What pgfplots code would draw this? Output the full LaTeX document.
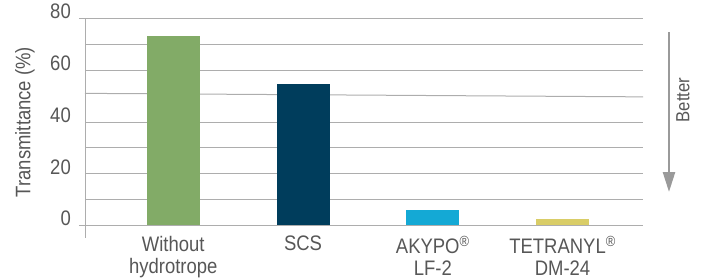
\documentclass[border=0pt]{standalone}
\usepackage{fontspec}
\setmainfont{Liberation Sans}[FakeStretch=0.88]
\usepackage{pgfplots}
\pgfplotsset{compat=1.18}
\usetikzlibrary{arrows.meta}
\definecolor{cgreen}{HTML}{82AB67}
\definecolor{cnavy}{HTML}{003D5C}
\definecolor{ccyan}{HTML}{14A9D5}
\definecolor{cyell}{HTML}{D9CD67}
\definecolor{cgrid}{HTML}{ADADAD}
\definecolor{ctext}{HTML}{575757}
\definecolor{carrow}{HTML}{9A9A9A}
\newcommand{\lbl}{\fontsize{21bp}{22bp}\selectfont}
\begin{document}
\begin{tikzpicture}
\begin{axis}[
  at={(85bp,-225.7bp)}, anchor=south west,
  scale only axis, width=558bp, height=207.4bp,
  xmin=-0.68, xmax=3.62, ymin=0, ymax=80,
  axis line style={draw=none},
  clip=false,
  xtick={0,1,2,3},
  xticklabels={{Without\\hydrotrope},{SCS},{AKYPO\textsuperscript{®}\\LF-2},{TETRANYL\textsuperscript{®}\\DM-24}},
  xticklabel style={align=center, font=\lbl, text=ctext, inner sep=0pt, anchor=north, yshift=-10bp},
  ytick={0,10,20,30,40,60,70,80},
  yticklabels={0,,20,,40,60,,80},
  yticklabel style={font=\lbl, text=ctext, inner sep=0pt, anchor=east, xshift=-14bp, yshift=7bp},
  major tick length=0pt,
  ymajorgrids, grid style={cgrid, line width=1bp},
  ylabel={Transmittance (\%)},
  every axis y label/.style={at={(rel axis cs:0,0.5)}, xshift=-60bp, rotate=90, anchor=center, font=\lbl, text=ctext},
]
\addplot[cgrid, line width=1bp] coordinates {(-0.68,51.05) (3.62,49.7)};
\addplot[ybar, bar width=53bp, fill=cgreen, draw=none] coordinates {(0,73.2)};
\addplot[ybar, bar width=53bp, fill=cnavy, draw=none] coordinates {(1,54.7)};
\addplot[ybar, bar width=53bp, fill=ccyan, draw=none] coordinates {(2,6.1)};
\addplot[ybar, bar width=53bp, fill=cyell, draw=none] coordinates {(3,2.6)};
\draw[cgrid, line width=1bp] ([xshift=-6bp]axis cs:-0.68,0) -- (axis cs:3.62,0);
\draw[cgrid, line width=1bp] ([xshift=-6bp]axis cs:-0.68,80) -- (axis cs:3.62,80);
\draw[cgrid, line width=1bp] (axis cs:-0.68,80) -- ([yshift=-12bp]axis cs:-0.68,0);
\end{axis}
\draw[carrow, line width=2.5bp, -{Triangle[width=12bp,length=20bp]}] (669bp,-32bp) -- (669bp,-192bp);
\node[rotate=90, text=ctext, font=\fontsize{19bp}{20bp}\selectfont, inner sep=0pt] at (683bp,-100bp) {Better};
\pgfresetboundingbox
\useasboundingbox (0,0) rectangle (702bp,-278bp);
\end{tikzpicture}
\end{document}
